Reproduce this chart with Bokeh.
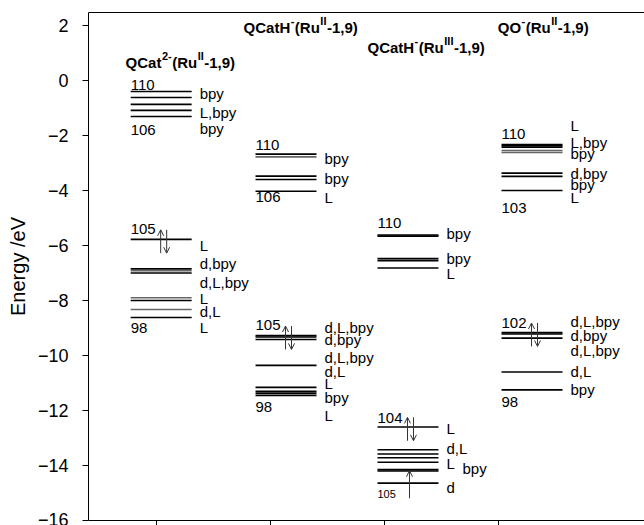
from bokeh.plotting import figure
from bokeh.models import Range1d, FixedTicker, LinearAxis, Arrow, OpenHead, ColumnDataSource
from bokeh.embed import file_html
from bokeh.resources import INLINE
from bokeh.core.properties import value

FONT = "Liberation Sans"

# ---------------- data ----------------
# titles as (text, superscript?) pieces
titles = [
    [("QCat", False), ("2-", True), ("(Ru", False), ("II", True), ("-1,9)", False)],
    [("QCatH", False), ("-", True), ("(Ru", False), ("II", True), ("-1,9)", False)],
    [("QCatH", False), ("-", True), ("(Ru", False), ("III", True), ("-1,9)", False)],
    [("QO", False), ("-", True), ("(Ru", False), ("II", True), ("-1,9)", False)],
]
title_x = [0.725, 1.76, 2.847, 3.99]
title_y = [0.66, 1.93, 1.20, 1.93]

# left edge of each column's level bars (category units) and bar length
col_x0 = [0.77, 1.865, 2.935, 4.023]
bar_len = 0.535

# orbital energies (eV) per column
col1_levels = [-0.40, -0.62, -0.87, -1.09, -1.31,                       # MO 110..106
               -5.78, -6.85, -6.92, -7.00, -7.90, -8.00, -8.33, -8.62]  # MO 105..98
col2_levels = [-2.68, -2.78, -3.48, -3.60, -4.03,
               -9.28, -9.33, -9.42, -10.36, -11.16, -11.30, -11.37, -11.45]
col3_levels = [-5.62, -5.66, -6.48, -6.55, -6.82,
               -12.60, -13.43, -13.58, -13.72, -13.88, -14.15, -14.20, -14.64]
col4_levels = [-2.33, -2.38, -2.43, -2.55, -2.62, -3.37, -3.49, -4.00,
               -9.17, -9.22, -9.37, -10.60, -11.25]
# bar colours (same order as the levels)
col1_colors = ["black"] * 7 + ["#666666"] + ["black", "#666666", "black", "#666666", "black"]
col2_colors = ["black", "#666666"] + ["black"] * 11
col3_colors = ["black"] * 13
col4_colors = ["black"] * 3 + ["#666666", "#666666"] + ["black"] * 8

# character labels to the right of the bars: (text, energy)
col1_right = [("bpy", -0.48), ("L,bpy", -1.15), ("bpy", -1.76),
              ("L", -6.00), ("d,bpy", -6.64), ("d,L,bpy", -7.33), ("L", -7.94),
              ("d,L", -8.39), ("L", -8.99)]
col2_right = [("bpy", -2.84), ("bpy", -3.56), ("L", -4.25),
              ("d,L,bpy", -8.97), ("d,bpy", -9.42), ("d,L,bpy", -10.06), ("d,L", -10.58),
              ("L", -11.02), ("bpy", -11.53), ("L", -12.18)]
col3_right = [("bpy", -5.56), ("bpy", -6.47), ("L", -7.02),
              ("L", -12.65), ("d,L", -13.38), ("L", -13.93), ("d", -14.80)]
col3_right_shift = [("bpy", -14.11)]
col4_right = [("L", -1.64), ("L,bpy", -2.24), ("bpy", -2.65), ("d,bpy", -3.38),
              ("bpy", -3.78), ("L", -4.25),
              ("d,L,bpy", -8.75), ("d,bpy", -9.27), ("d,L,bpy", -9.82), ("d,L", -10.57),
              ("bpy", -11.25)]

# MO numbers written at the left end of the bars: (text, energy)
col1_num = [("110", -0.16), ("106", -1.79), ("105", -5.39), ("98", -8.99)]
col2_num = [("110", -2.36), ("106", -4.25), ("105", -8.91), ("98", -11.88)]
col3_num = [("110", -5.20), ("104", -12.29)]
col3_num_small = [("105", -15.02)]
col4_num = [("110", -1.93), ("103", -4.65), ("102", -8.82), ("98", -11.70)]

# electron arrows: (column index, energy of occupied level, kind)
electrons = [(0, -5.78, "pair"), (1, -9.28, "pair"), (2, -12.60, "pair"),
             (3, -9.17, "pair"), (2, -14.64, "up")]

y_ticks = list(range(-16, 3, 2))
x_ticks = [1, 2, 3, 4]

# Arial/Liberation Sans Bold advance widths (per 1000 em) for title layout
BOLD_W = {"Q": 778, "C": 722, "a": 556, "t": 333, "H": 722, "O": 778, "(": 333, "R": 722,
          "u": 611, "-": 333, "1": 556, ",": 278, "9": 556, ")": 333, "2": 556, "I": 278}

# ---------------- figure ----------------
p = figure(width=644, height=525, output_backend="svg", toolbar_location=None,
           x_range=Range1d(0.4, 0.4 + 556 / 114), y_range=Range1d(-16, 2.47),
           min_border_left=88, min_border_right=0, min_border_top=12, min_border_bottom=5)
p.grid.visible = False
p.outline_line_color = None
p.background_fill_color = "white"

p.yaxis.ticker = FixedTicker(ticks=y_ticks)
p.yaxis.minor_tick_line_color = None
p.yaxis.major_tick_in = 0
p.yaxis.major_tick_out = 6
p.yaxis.major_label_text_font = FONT
p.yaxis.major_label_text_font_size = "18px"
p.yaxis.major_label_text_color = "black"
p.yaxis.major_label_standoff = 14
p.yaxis.axis_label = "Energy /eV"
p.yaxis.axis_label_text_font = FONT
p.yaxis.axis_label_text_font_style = "normal"
p.yaxis.axis_label_text_font_size = "20px"
p.yaxis.axis_label_text_color = "black"
p.yaxis.axis_label_standoff = 6
p.yaxis.axis_line_color = "black"
p.yaxis.major_tick_line_color = "black"

p.xaxis.ticker = FixedTicker(ticks=x_ticks)
p.xaxis.major_label_overrides = {t: "" for t in x_ticks}
p.xaxis.minor_tick_line_color = None
p.xaxis.major_tick_in = 0
p.xaxis.major_tick_out = 5
p.xaxis.major_label_standoff = 0
p.xaxis.axis_line_color = "black"
p.xaxis.major_tick_line_color = "black"

top = LinearAxis(ticker=FixedTicker(ticks=[]),
                 major_tick_out=0, major_tick_in=0, minor_tick_out=0, minor_tick_in=0,
                 major_label_standoff=0, axis_line_color="black")
p.add_layout(top, "above")

# level bars
all_levels = [col1_levels, col2_levels, col3_levels, col4_levels]
all_colors = [col1_colors, col2_colors, col3_colors, col4_colors]
x0s, x1s, ys, cs = [], [], [], []
for ci, lv in enumerate(all_levels):
    for e, c in zip(lv, all_colors[ci]):
        x0s.append(col_x0[ci]); x1s.append(col_x0[ci] + bar_len); ys.append(e); cs.append(c)
p.segment(x0=x0s, y0=ys, x1=x1s, y1=ys, line_color=cs, line_width=1.6)

# right-hand character labels
gap = 8 / 114
rx, ry, rt, rdx = [], [], [], []
for ci, labs in enumerate([col1_right, col2_right, col3_right, col4_right]):
    for t, e in labs:
        rx.append(col_x0[ci] + bar_len + gap); ry.append(e); rt.append(t); rdx.append(0)
for t, e in col3_right_shift:
    rx.append(col_x0[2] + bar_len + gap); ry.append(e); rt.append(t); rdx.append(16)
p.text(x=rx, y=ry, text=rt, x_offset=rdx, text_font=value(FONT), text_font_size="15px",
       text_baseline="middle", text_align="left", text_color="black")

# MO numbers
nx, ny, nt = [], [], []
for ci, labs in enumerate([col1_num, col2_num, col3_num, col4_num]):
    for t, e in labs:
        nx.append(col_x0[ci]); ny.append(e); nt.append(t)
p.text(x=nx, y=ny, text=nt, text_font=value(FONT), text_font_size="15px",
       text_baseline="middle", text_align="left", text_color="black")
p.text(x=[col_x0[2] for _ in col3_num_small], y=[e for _, e in col3_num_small],
       text=[t for t, _ in col3_num_small], text_font=value(FONT), text_font_size="11px",
       text_baseline="middle", text_align="left", text_color="black")

# titles (main text + raised superscripts)
MAIN_PX, SUP_PX = 15, 11
bx, by, bt, bdx = [], [], [], []
sx, sy, st, sdx = [], [], [], []
for ti, pieces in enumerate(titles):
    off = 0.0
    for txt, sup in pieces:
        size = SUP_PX if sup else MAIN_PX
        if sup:
            sx.append(title_x[ti]); sy.append(title_y[ti]); st.append(txt); sdx.append(off + 0.5)
        else:
            bx.append(title_x[ti]); by.append(title_y[ti]); bt.append(txt); bdx.append(off)
        off += sum(BOLD_W[ch] for ch in txt) * size / 1000.0 + (1.0 if sup else 0.0)
p.text(x=bx, y=by, text=bt, x_offset=bdx, text_font=value(FONT), text_font_size=f"{MAIN_PX}px",
       text_font_style="bold", text_baseline="middle", text_align="left", text_color="black")
p.text(x=sx, y=sy, text=st, x_offset=sdx, y_offset=-6, text_font=value(FONT),
       text_font_size=f"{SUP_PX}px", text_font_style="bold", text_baseline="middle",
       text_align="left", text_color="black")

# electron arrows
up_off, dn_off = 30 / 114, 36 / 114
xs0, ys0, xs1, ys1 = [], [], [], []
for ci, e, kind in electrons:
    if kind == "pair":
        xs0 += [col_x0[ci] + up_off, col_x0[ci] + dn_off]
        ys0 += [e - 0.50, e + 0.35]
        xs1 += [col_x0[ci] + up_off, col_x0[ci] + dn_off]
        ys1 += [e + 0.35, e - 0.50]
    else:
        xs0.append(col_x0[ci] + 32 / 114); ys0.append(e - 0.55)
        xs1.append(col_x0[ci] + 32 / 114); ys1.append(e + 0.45)
asrc = ColumnDataSource(dict(x0=xs0, y0=ys0, x1=xs1, y1=ys1))
p.add_layout(Arrow(end=OpenHead(size=6, line_width=1, line_color="#333333"),
                   x_start="x0", y_start="y0", x_end="x1", y_end="y1",
                   source=asrc, line_width=1, line_color="#333333"))

open("out.html", "w").write(file_html(p, INLINE))
